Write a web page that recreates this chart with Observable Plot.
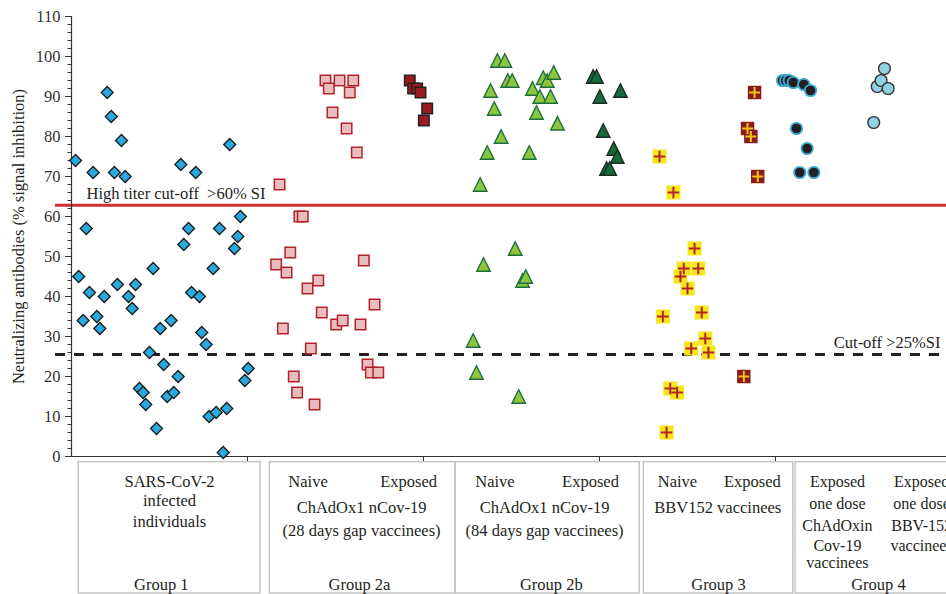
<!DOCTYPE html>
<html><head><meta charset="utf-8">
<script src="https://cdn.jsdelivr.net/npm/d3@7"></script>
<script src="https://cdn.jsdelivr.net/npm/@observablehq/plot@0.6"></script>
<style>body{margin:0;background:#fff}</style>
</head><body><div id="chart"></div>
<script>
// ---------- data (x = jitter position in group units, y = % signal inhibition) ----------
const g1X = [0.023,0.123,0.203,0.226,0.284,0.244,0.305,0.621,0.706,0.899,0.084,0.665,0.841,0.960,0.945,0.041,0.066,0.102,0.144,0.161,0.186,0.261,0.324,0.345,0.364,0.464,0.443,0.386,0.407,0.422,0.483,0.504,0.566,0.524,0.544,0.581,0.606,0.638,0.682,0.727,0.740,0.765,0.782,0.822,0.805,0.882,0.862,0.926,0.985,1.004];
const g1Y = [74,71,91,85,79,71,70,73,71,78,57,57,57,60,55,45,34,41,35,32,40,43,40,37,43,47,26,17,16,13,7,32,34,23,15,16,20,53,41,40,31,28,10,11,47,12,1,52,19,22];

const g2aNaiveX = [1.443,1.523,1.601,1.462,1.581,1.483,1.563,1.621,1.182,1.295,1.314,1.243,1.163,1.222,1.661,1.402,1.341,1.722,1.422,1.504,1.541,1.642,1.201,1.360,1.682,1.701,1.743,1.263,1.282,1.381];
const g2aNaiveY = [94,94,94,92,91,86,82,76,68,60,60,51,48,46,49,44,42,38,36,33,34,33,32,27,23,21,21,20,16,13];
const g2aExpX = [1.922,1.941,1.964,1.983,2.021,2.002];
const g2aExpY = [94,92,92,91,87,84];

const g2bNaiveX = [2.420,2.462,2.479,2.504,2.381,2.402,2.680,2.703,2.740,2.619,2.661,2.722,2.642,2.761,2.441,2.362,2.601,2.322,2.521,2.341,2.563,2.581,2.282,2.301,2.541];
const g2bNaiveY = [99,99,94,94,91.5,87,94.7,94,96,92,90,90,86,83.3,80,76,76,68,52,48,44,45,29,21,15];
const g2bExpX = [2.964,2.983,3.002,3.119,3.021,3.081,3.101,3.040,3.058];
const g2bExpY = [95,95,90,91.5,81.5,77,75,72,72];

const g3NaiveX = [3.341,3.420,3.540,3.479,3.561,3.460,3.500,3.360,3.581,3.601,3.521,3.619,3.402,3.441,3.381];
const g3NaiveY = [75,66,52,47,47,45,42,35,36,29.5,27,26,17,16,6];
const g3ExpX = [3.881,3.841,3.860,3.899,3.820];
const g3ExpY = [91,82,80,70,20];

const g4ChAdX = [4.040,4.058,4.078,4.101,4.161,4.199,4.119,4.180,4.138,4.218];
const g4ChAdY = [94,94,94,93.5,93,91.5,82,77,71,71];
const g4BBVX = [4.558,4.578,4.600,4.619,4.640];
const g4BBVY = [83.5,92.5,94,97,92];

const highCutoff = 62.8, lowCutoff = 25.5;
const highLabel = "High titer cut-off\u00a0 >60% SI";
const lowLabel = "Cut-off >25%SI";
const yTitle = "Neutralizing antibodies (% signal inhibition)";
const yMajorTicks = [0,10,20,30,40,50,60,70,80,90,100,110];
const xGroupTicks = [1,2,3,4];

const groupNames = ["Group 1","Group 2a","Group 2b","Group 3","Group 4"];
const groupStart = [0.041,1.127,2.182,3.252,4.114];
const groupEnd   = [1.074,2.182,3.229,4.101,5.2];
const groupLabelX = [0.51,1.636,2.726,3.676,4.585];

const noteText = ["SARS-CoV-2","infected","individuals",
  "Naive","Exposed","ChAdOx1 nCov-19","(28 days gap vaccinees)",
  "Naive","Exposed","ChAdOx1 nCov-19","(84 days gap vaccinees)",
  "Naive","Exposed","BBV152 vaccinees"];
const noteX = [0.557,0.557,0.557,
  1.344,1.915,1.648,1.648,
  2.406,2.949,2.688,2.688,
  3.443,3.869,3.672];
const noteY = [-6.4,-11,-16.2,
  -6.4,-6.4,-12.7,-18.5,
  -6.4,-6.4,-12.9,-18.5,
  -6.4,-6.4,-12.7];

const g4Text = ["Exposed","one dose","ChAdOxin","Cov-19","vaccinees",
  "Exposed","one dose","BBV-152","vaccinees"];
const g4TextX = [4.352,4.352,4.352,4.352,4.352,4.83,4.83,4.83,4.83];
const g4TextY = [-6.4,-11.8,-17.25,-22.25,-26.6,-6.4,-11.8,-17.25,-22.25];

// ---------- build ----------
const pts = (xs, ys) => xs.map((x, i) => ({x, y: ys[i]}));
const groups = groupNames.map((name, i) => ({name, x1: groupStart[i], x2: groupEnd[i], lx: groupLabelX[i]}));
const notes = noteText.map((t, i) => ({t, x: noteX[i], y: noteY[i]}));
const g4Notes = g4Text.map((t, i) => ({t, x: g4TextX[i], y: g4TextY[i]}));
const isoTriangle = {draw(ctx, size) { const s = Math.sqrt(size); ctx.moveTo(0, -s/2); ctx.lineTo(s/2, s/2); ctx.lineTo(-s/2, s/2); ctx.closePath(); }};
const ink = "#231f20";

const marks = [
  Plot.rect(groups, {x1: "x1", x2: "x2", y1: -1.4, y2: -34.25, fill: "none", stroke: "#c4c4c4", strokeWidth: 1.5}),
  Plot.text(groups, {x: "lx", y: -32.1, text: "name", fontSize: 16.5, fill: ink}),
  Plot.text(notes, {x: "x", y: "y", text: "t", fontSize: 16.5, fill: ink}),
  Plot.text(g4Notes, {x: "x", y: "y", text: "t", fontSize: 16, fill: ink}),
  Plot.ruleY([highCutoff], {x1: -0.091, x2: 5.2, stroke: "#d12d33", strokeWidth: 3}),
  Plot.ruleY([lowCutoff], {x1: -0.091, x2: 5.2, stroke: "#222", strokeWidth: 3, strokeDasharray: "10,9"}),
  Plot.text([highLabel], {x: 0.085, y: highCutoff, dy: -12, text: d => d, textAnchor: "start", fontSize: 16.5, fill: ink}),
  Plot.text([lowLabel], {x: 4.937, y: lowCutoff, dy: -12, text: d => d, textAnchor: "end", fontSize: 16.5, fill: ink}),
  Plot.ruleX([0], {y1: 0, y2: 110, stroke: "#333", strokeWidth: 1.2}),
  Plot.ruleY([0], {x1: -0.03, x2: 5.2, stroke: "#333", strokeWidth: 1.2}),
  Plot.axisY({ticks: yMajorTicks, tickSize: 6, tickPadding: 5, label: null, fontSize: 16.5, color: "#333"}),
  Plot.axisY({ticks: d3.range(0, 111, 2), tickSize: 3.5, tickFormat: () => "", label: null, color: "#333"}),
  Plot.axisX({ticks: xGroupTicks, tickSize: 5, tickFormat: () => "", label: null, color: "#333"}),
  Plot.text([yTitle], {frameAnchor: "left", textAnchor: "middle", rotate: -90, dx: -53, text: d => d, fontSize: 16.5, fill: ink}),
  // points
  Plot.dot(pts(g1X, g1Y), {x: "x", y: "y", symbol: d3.symbolDiamond2, r: 5.4, fill: "#29a9e0", stroke: "#1a1a1a", strokeWidth: 1.3}),
  Plot.dot(pts(g2aNaiveX, g2aNaiveY), {x: "x", y: "y", symbol: d3.symbolSquare, r: 5.9, fill: "#e9bcbd", stroke: "#b3222c", strokeWidth: 1.5}),
  Plot.dot(pts(g2aExpX, g2aExpY), {x: "x", y: "y", symbol: d3.symbolSquare, r: 5.9, fill: "#9b1b20", stroke: "#222", strokeWidth: 1.5}),
  Plot.dot(pts(g2bNaiveX, g2bNaiveY), {x: "x", y: "y", symbol: isoTriangle, r: 7.6, fill: "#8cc63f", stroke: "#1c6e3d", strokeWidth: 1.4}),
  Plot.dot(pts(g2bExpX, g2bExpY), {x: "x", y: "y", symbol: isoTriangle, r: 7.6, fill: "#176b3a", stroke: "#1b2a20", strokeWidth: 1.4}),
  Plot.dot(pts(g3NaiveX, g3NaiveY), {x: "x", y: "y", symbol: d3.symbolSquare, r: 7.9, fill: "#f6e61c"}),
  Plot.dot(pts(g3NaiveX, g3NaiveY), {x: "x", y: "y", symbol: d3.symbolPlus, r: 3.8, stroke: "#b3242a", strokeWidth: 2}),
  Plot.dot(pts(g3ExpX, g3ExpY), {x: "x", y: "y", symbol: d3.symbolSquare, r: 7.6, fill: "#8a1a1c"}),
  Plot.dot(pts(g3ExpX, g3ExpY), {x: "x", y: "y", symbol: d3.symbolPlus, r: 3.6, stroke: "#f0c419", strokeWidth: 2}),
  Plot.dot(pts(g4ChAdX, g4ChAdY), {x: "x", y: "y", r: 5.7, fill: "#231f20", stroke: "#3aa9d4", strokeWidth: 1.8}),
  Plot.dot(pts(g4BBVX, g4BBVY), {x: "x", y: "y", r: 5.9, fill: "#8fd0e3", stroke: "#333", strokeWidth: 1.4})
];

const chart = Plot.plot({
  width: 946, height: 594,
  marginLeft: 71, marginRight: 0, marginTop: 16, marginBottom: 138,
  x: {domain: [0, 875/176]},
  y: {domain: [0, 110]},
  style: {fontFamily: "'Liberation Serif', 'Times New Roman', serif", fontSize: "16.5px", background: "#fff", color: ink},
  marks
});
document.getElementById("chart").append(chart);
</script>
</body></html>
